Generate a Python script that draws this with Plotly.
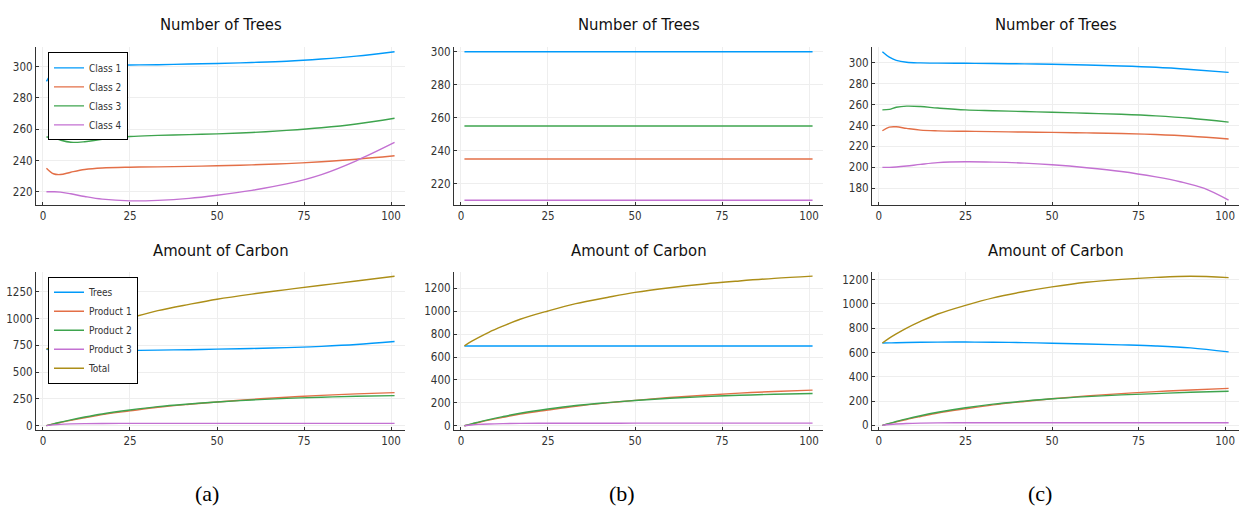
import plotly.graph_objects as go

# ---------------- data ----------------
X = [1, 3, 5, 8, 12, 17, 25, 33, 42, 50, 60, 70, 80, 90, 101]
X_C4 = [1, 3, 5, 8, 12, 17, 25, 33, 42, 50, 60, 70, 80, 87, 94, 101]
X_FLAT = [1, 101]

# (a) Number of Trees
a_class1 = [290.5, 297, 299.5, 300.3, 300.5, 300.7, 301, 301.2, 301.6, 302, 302.6, 303.4, 304.8, 306.7, 309.5]
a_class2 = [235, 231.5, 231, 232.5, 234.2, 235.2, 235.7, 235.9, 236.2, 236.6, 237.2, 238, 239.2, 240.8, 243]
a_class3 = [255, 254.5, 253, 251.6, 252, 253.5, 255.3, 256, 256.5, 257, 257.9, 259.2, 260.9, 263.3, 267]
a_class4 = [220, 220, 219.8, 218.7, 217, 215.3, 214.2, 214.5, 215.8, 217.8, 220.9, 225, 231, 239.8, 251.5]

# (b) Number of Trees (constant)
b_class1 = [300, 300]
b_class2 = [235, 235]
b_class3 = [255, 255]
b_class4 = [210, 210]

# (c) Number of Trees
c_class1 = [310.7, 305.5, 302.5, 300.6, 300, 299.8, 299.7, 299.4, 299.1, 298.7, 298, 297.1, 295.8, 293.7, 290.9]
c_class2 = [235, 238.5, 238.8, 237.3, 235.6, 234.9, 234.5, 234.2, 233.8, 233.5, 233, 232.4, 231.4, 229.8, 227.2]
c_class3 = [255, 255.5, 257.5, 258.6, 258.2, 256.8, 255, 254.2, 253.4, 252.8, 251.8, 250.8, 249.3, 247, 243.3]
c_class4 = [200, 200, 200.3, 201.2, 202.8, 204.5, 205.3, 205, 204, 202.4, 199.6, 196, 190.8, 186.2, 179.8, 168.5]

# (a) Amount of Carbon
a_trees = [712, 706, 702, 700, 700, 701, 702, 705, 709, 714, 720, 728, 740, 757, 785]
a_prod1 = [0, 15, 29, 49, 73, 103, 138, 171, 199, 221, 245, 265, 282, 296, 308]
a_prod2 = [0, 17, 32, 54, 80, 109, 146, 177, 202, 221, 239, 254, 265, 274, 280]
a_prod3 = [0, 7, 12, 16, 19, 20.5, 21, 21, 21, 21, 21, 21, 21, 21, 21]
a_total = [714, 745, 775, 819, 872, 934, 1005, 1073, 1132, 1180, 1228, 1270, 1310, 1350, 1395]

# (b) Amount of Carbon
b_trees = [697, 697, 697, 697, 697, 697, 697, 697, 697, 697, 697, 697, 697, 697, 697]
b_prod1 = [0, 15, 29, 49, 73, 103, 138, 171, 200, 222, 247, 267, 285, 299, 311]
b_prod2 = [0, 17, 32, 54, 80, 109, 146, 177, 202, 221, 240, 255, 266, 275, 282]
b_prod3 = [0, 7, 12, 16, 19, 21, 22, 22, 22.5, 23, 23, 23, 23, 23, 23]
b_total = [697, 736, 770, 816, 869, 930, 1002, 1066, 1120, 1164, 1205, 1238, 1264, 1287, 1306]

# (c) Amount of Carbon
c_trees = [678, 679, 680, 682, 684, 685.5, 686, 684.5, 681, 676, 670, 663, 654, 638, 605]
c_prod1 = [0, 15, 29, 49, 73, 102, 137, 169, 197, 219, 243, 262, 278, 292, 305]
c_prod2 = [0, 17, 32, 54, 80, 108, 145, 175, 200, 219, 237, 251, 262, 273, 281]
c_prod3 = [0, 7, 12, 16, 19, 21, 22, 22, 22, 22, 22, 22, 22, 22, 22]
c_total = [678, 718, 753, 801, 856, 917, 988, 1050, 1102, 1140, 1178, 1202, 1218, 1227, 1216]

class_names = ["Class 1", "Class 2", "Class 3", "Class 4"]
carbon_names = ["Trees", "Product 1", "Product 2", "Product 3", "Total"]
x_ticks = [0, 25, 50, 75, 100]
trees_ticks_ab = [220, 240, 260, 280, 300]
trees_ticks_c = [180, 200, 220, 240, 260, 280, 300]
carbon_ticks_a = [0, 250, 500, 750, 1000, 1250]
carbon_ticks_bc = [0, 200, 400, 600, 800, 1000, 1200]
captions = ["(a)", "(b)", "(c)"]

# ---------------- styling ----------------
W, H = 1239, 510
COLORS = ["#009AFA", "#E36F47", "#3EA44E", "#C371D2", "#AC8E18"]
FONT = "DejaVu Sans Condensed, Liberation Sans Narrow, sans-serif"

def px_x(p):
    return p / W

def px_y(p):
    return 1 - p / H

col_px = [(36, 405), (454, 823), (872, 1239)]
row_px = [(45, 204), (272, 432)]

fig = go.Figure()

panels = [
    (0, 0, [X] * 4, [a_class1, a_class2, a_class3, a_class4], class_names, trees_ticks_ab, [211.8, 312.2], "legend"),
    (0, 1, [X_FLAT] * 4, [b_class1, b_class2, b_class3, b_class4], class_names, trees_ticks_ab, [207.4, 302.6], None),
    (0, 2, [X, X, X, X_C4], [c_class1, c_class2, c_class3, c_class4], class_names, trees_ticks_c, [164.3, 314.8], None),
    (1, 0, [X] * 5, [a_trees, a_prod1, a_prod2, a_prod3, a_total], carbon_names, carbon_ticks_a, [-40, 1436], "legend2"),
    (1, 1, [X] * 5, [b_trees, b_prod1, b_prod2, b_prod3, b_total], carbon_names, carbon_ticks_bc, [-36, 1344], None),
    (1, 2, [X] * 5, [c_trees, c_prod1, c_prod2, c_prod3, c_total], carbon_names, carbon_ticks_bc, [-37, 1264], None),
]

titles = ["Number of Trees", "Amount of Carbon"]

for idx, (r, c, xss, series, names, yticks, yrange, leg) in enumerate(panels):
    n = idx + 1
    xa = "x" if n == 1 else f"x{n}"
    ya = "y" if n == 1 else f"y{n}"
    for k, (xs, vals, name) in enumerate(zip(xss, series, names)):
        tr = dict(
            x=xs, y=vals, mode="lines", name=name,
            line=dict(color=COLORS[k], width=1.4, shape="spline", smoothing=1.0),
            xaxis=xa, yaxis=ya, showlegend=leg is not None,
        )
        if leg is not None:
            tr["legend"] = leg
        fig.add_trace(go.Scatter(**tr))

    x0, x1 = col_px[c]
    y0, y1 = row_px[r]
    axis_common = dict(
        showline=True, linecolor="#333333", linewidth=1.2, mirror=False,
        showgrid=True, gridcolor="#EEEEEE", gridwidth=1, zeroline=False,
        ticks="inside", ticklen=3, tickcolor="#333333",
        tickfont=dict(family=FONT, size=11.5, color="#333333"),
    )
    xkey = "xaxis" if n == 1 else f"xaxis{n}"
    ykey = "yaxis" if n == 1 else f"yaxis{n}"
    fig.update_layout({
        xkey: dict(domain=[px_x(x0), px_x(x1)], range=[-2, 104],
                   tickvals=x_ticks, anchor=ya, **axis_common),
        ykey: dict(domain=[px_y(y1), px_y(y0)], range=yrange,
                   tickvals=yticks, anchor=xa, **axis_common),
    })

annotations = []
for r, tpx in enumerate([22, 250]):
    for c in range(3):
        x0, x1 = col_px[c]
        annotations.append(dict(
            text=titles[r], x=px_x((x0 + x1) / 2), y=px_y(tpx),
            xref="paper", yref="paper", showarrow=False,
            xanchor="center", yanchor="middle",
            font=dict(family=FONT, size=16.5, color="#111111"),
        ))

for cap, cx in zip(captions, [207, 622, 1040]):
    annotations.append(dict(
        text=cap, x=px_x(cx), y=px_y(496), xref="paper", yref="paper",
        showarrow=False, xanchor="center", yanchor="middle",
        font=dict(family="Liberation Serif, Times New Roman, serif", size=22, color="#000000"),
    ))

legend_style = dict(
    bgcolor="white", bordercolor="#000000", borderwidth=1,
    font=dict(family=FONT, size=10, color="#333333"),
    xanchor="left", yanchor="top", itemwidth=30,
    tracegroupgap=0,
)

fig.update_layout(
    width=W, height=H,
    margin=dict(l=0, r=0, t=0, b=0),
    paper_bgcolor="white", plot_bgcolor="white",
    annotations=annotations,
    legend=dict(x=px_x(48), y=px_y(50), **legend_style),
    legend2=dict(x=px_x(48), y=px_y(277), **legend_style),
)

fig.write_html(
    "out.html",
    config={"displayModeBar": False},
    post_script="document.body.style.margin='0';document.body.style.overflow='hidden';",
)
